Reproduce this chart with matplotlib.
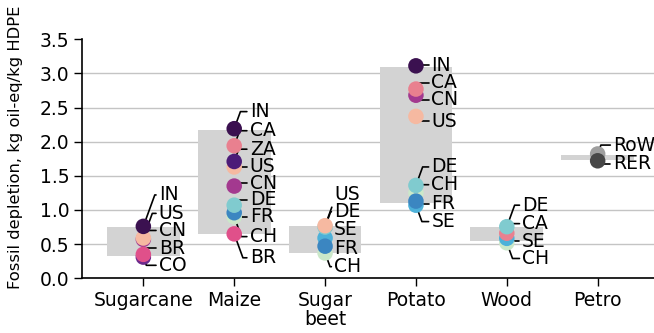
import matplotlib.pyplot as plt

plt.rcParams['font.family'] = ['DejaVu Sans']

# categories and the grey range boxes
groups = ['Sugarcane', 'Maize', 'Sugar\nbeet', 'Potato', 'Wood', 'Petro']
box_low = [0.32, 0.65, 0.37, 1.10, 0.54, 1.73]
box_high = [0.755, 2.17, 0.77, 3.10, 0.755, 1.81]

# country results per feedstock (label order, top to bottom)
sugarcane_regions = ['IN', 'US', 'CN', 'BR', 'CO']
sugarcane_values = [0.76, 0.59, 0.57, 0.35, 0.31]
maize_regions = ['IN', 'CA', 'ZA', 'US', 'CN', 'DE', 'FR', 'CH', 'BR']
maize_values = [2.19, 1.94, 1.71, 1.63, 1.35, 1.07, 0.96, 0.90, 0.65]
beet_regions = ['US', 'DE', 'SE', 'FR', 'CH']
beet_values = [0.77, 0.75, 0.59, 0.47, 0.37]
potato_regions = ['IN', 'CA', 'CN', 'US', 'DE', 'CH', 'FR', 'SE']
potato_values = [3.11, 2.77, 2.68, 2.37, 1.36, 1.25, 1.13, 1.07]
wood_regions = ['DE', 'CA', 'SE', 'CH']
wood_values = [0.755, 0.66, 0.585, 0.52]
petro_regions = ['RoW', 'RER']
petro_values = [1.82, 1.72]

# where the text labels sit (y) and how far right of the dots (x)
sugarcane_label_y = [1.22, 0.95, 0.70, 0.44, 0.19]
maize_label_y = [2.44, 2.16, 1.89, 1.63, 1.39, 1.15, 0.90, 0.61, 0.30]
beet_label_y = [1.22, 0.975, 0.71, 0.44, 0.17]
potato_label_y = [3.12, 2.86, 2.61, 2.30, 1.63, 1.37, 1.09, 0.83]
wood_label_y = [1.07, 0.80, 0.54, 0.29]
petro_label_y = [1.95, 1.68]
label_dx = [0.17, 0.17, 0.10, 0.17, 0.17, 0.17]

colors = {
    'IN': '#3b1150', 'CA': '#e9808f', 'ZA': '#4c1b78', 'US': '#f6b9a1',
    'CN': '#a3398f', 'DE': '#80cbcf', 'FR': '#3b86c1', 'SE': '#4db1d9',
    'CH': '#cbe8c9', 'BR': '#e0508a', 'CO': '#6b2a8c',
    'RoW': '#9e9e9e', 'RER': '#474747',
}
# which dots end up on top where they overlap
draw_order = ['CH', 'SE', 'FR', 'CN', 'CA', 'DE', 'US', 'ZA', 'IN', 'CO', 'BR', 'RoW', 'RER']

data = [
    (sugarcane_regions, sugarcane_values, sugarcane_label_y),
    (maize_regions, maize_values, maize_label_y),
    (beet_regions, beet_values, beet_label_y),
    (potato_regions, potato_values, potato_label_y),
    (wood_regions, wood_values, wood_label_y),
    (petro_regions, petro_values, petro_label_y),
]

fs = 13.5

fig = plt.figure(figsize=(6.54, 3.33), dpi=100)
ax = fig.add_axes([0.1254, 0.1643, 0.8746, 0.718])

# grey min-max boxes
heights = [h - l for l, h in zip(box_low, box_high)]
ax.bar(range(len(groups)), heights, bottom=box_low, width=0.8,
       color='#d3d3d3', zorder=1)

for i, (regions, values, label_y) in enumerate(data):
    # labels with leader lines
    for r, v, ly in zip(regions, values, label_y):
        angle = 70 if ly >= v else -70
        ax.annotate(r, xy=(i, v), xytext=(i + label_dx[i], ly),
                    ha='left', va='center', fontsize=fs, zorder=2,
                    arrowprops=dict(arrowstyle='-', color='black', lw=1.2,
                                    shrinkA=0, shrinkB=5,
                                    connectionstyle=f'angle,angleA=0,angleB={angle},rad=0'))
    # dots
    pts = sorted(zip(regions, values), key=lambda p: draw_order.index(p[0]))
    for r, v in pts:
        ax.scatter(i, v, s=125, color=colors[r], edgecolors='none', zorder=3)

ax.set_xlim(-0.675, 5.62)
ax.set_ylim(0, 3.5)
ax.set_yticks([0, 0.5, 1.0, 1.5, 2.0, 2.5, 3.0, 3.5])
ax.set_xticks(range(len(groups)))
ax.set_xticklabels(groups, linespacing=1.0)
ax.tick_params(labelsize=fs, length=6, width=1, pad=3)
ax.yaxis.grid(True, color='#c4c4c4', lw=1)
ax.get_ygridlines()[-1].set_visible(False)
ax.set_axisbelow(True)
for s in ['top', 'right']:
    ax.spines[s].set_visible(False)
for s in ['left', 'bottom']:
    ax.spines[s].set_linewidth(1.2)

ax.set_ylabel('Fossil depletion, kg oil-eq/kg HDPE', fontsize=11.8)
ax.yaxis.set_label_coords(-0.103, 0.548)

fig.savefig('out.png', dpi=100)
